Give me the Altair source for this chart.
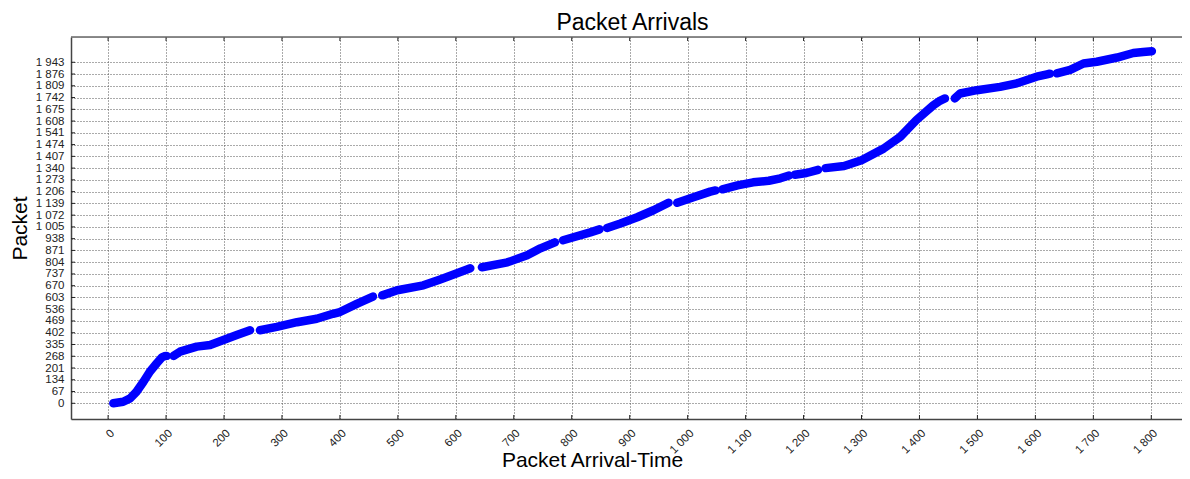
import altair as alt
import pandas as pd

# ---- data ----
segment_ids = (
    [1] * 10 + [2] * 7 + [3] * 8 + [4] * 6 + [5] * 5 + [6] * 3 + [7] * 5 + [8] * 4
    + [9] * 6 + [10] * 3 + [11] * 9 + [12] * 9 + [13] * 8
)
arrival_times = [
    9, 26, 38, 49, 61, 72, 84, 93, 97, 101,
    113, 124, 153, 176, 199, 222, 245,
    262, 291, 326, 360, 388, 400, 430, 457,
    473, 499, 544, 573, 602, 625,
    645, 689, 723, 746, 771,
    785, 832, 848,
    861, 884, 913, 941, 967,
    982, 1010, 1039, 1048,
    1060, 1086, 1113, 1140, 1160, 1175,
    1185, 1205, 1225,
    1238, 1270, 1300, 1338, 1367, 1395, 1424, 1436, 1444,
    1461, 1470, 1499, 1539, 1568, 1602, 1612, 1620, 1625,
    1637, 1660, 1683, 1706, 1741, 1769, 1786, 1801,
]
packets = [
    0, 9, 28, 66, 123, 180, 228, 262, 268, 270,
    270, 294, 323, 332, 361, 389, 416,
    416, 435, 462, 482, 510, 520, 568, 608,
    615, 644, 672, 706, 741, 769,
    775, 803, 843, 883, 917,
    929, 974, 991,
    999, 1024, 1060, 1100, 1143,
    1142, 1174, 1206, 1213,
    1219, 1242, 1259, 1268, 1282, 1298,
    1302, 1312, 1330,
    1340, 1352, 1385, 1451, 1519, 1615, 1698, 1725, 1737,
    1737, 1765, 1784, 1803, 1823, 1861, 1868, 1874, 1878,
    1880, 1900, 1936, 1946, 1970, 1996, 2002, 2006,
]
x_tick_values = [0, 100, 200, 300, 400, 500, 600, 700, 800, 900,
                 1000, 1100, 1200, 1300, 1400, 1500, 1600, 1700, 1800]
y_tick_values = [0, 67, 134, 201, 268, 335, 402, 469, 536, 603, 670, 737, 804,
                 871, 938, 1005, 1072, 1139, 1206, 1273, 1340, 1407, 1474,
                 1541, 1608, 1675, 1742, 1809, 1876, 1943]
chart_title = "Packet Arrivals"

df = pd.DataFrame({"seg": segment_ids, "time": arrival_times, "packet": packets})
xt = pd.DataFrame({"time": x_tick_values})
yt = pd.DataFrame({"packet": y_tick_values})

FONT = "Liberation Sans"
label_expr = "replace(format(datum.value, ','), ',', ' ')"

W, H = 1111, 382
x_scale = alt.Scale(domain=[-64, 1853], nice=False, zero=False)
y_scale = alt.Scale(domain=[-89.5, 2087], nice=False, zero=False)

x_axis = alt.Axis(
    values=x_tick_values, labelExpr=label_expr, labelAngle=-45,
    labelAlign="right", labelBaseline="top", labelPadding=8,
    labelFontSize=11.5, labelColor="#222", labelFont=FONT,
    labelOverlap=False,
    ticks=False, title="Packet Arrival-Time", titleFont=FONT,
    titleFontSize=21, titleFontWeight="normal", titleColor="#000",
    titleX=521, titleY=47, titleAlign="center", titleBaseline="alphabetic",
    grid=True, gridColor="#555", gridDash=[1, 2], gridWidth=1,
    domainColor="#444", domainWidth=1.5,
)
y_axis = alt.Axis(
    values=y_tick_values, labelExpr=label_expr, labelPadding=7,
    labelFontSize=11.5, labelColor="#222", labelFont=FONT,
    labelOverlap=False,
    ticks=False, title="Packet", titleFont=FONT, titleFontSize=21,
    titleFontWeight="normal", titleColor="#000",
    titleX=-45, titleY=H / 2, titleAlign="center", titleBaseline="alphabetic",
    grid=True, gridColor="#555", gridDash=[1, 2], gridWidth=1,
    domainColor="#444", domainWidth=1.5,
)

X = alt.X("time:Q", scale=x_scale, axis=x_axis)
Y = alt.Y("packet:Q", scale=y_scale, axis=y_axis)

line = alt.Chart(df).mark_line(
    color="#0000ff", strokeWidth=8.5, strokeCap="round", strokeJoin="round"
).encode(x=X, y=Y, detail="seg:N", order="time:Q")

one_row = pd.DataFrame({"a": [0]})

top_border = alt.Chart(one_row).mark_rule(
    color="#666", strokeWidth=1.5
).encode(x=alt.value(0), x2=alt.value(W), y=alt.value(0))

# inner tick marks (MATLAB style)
x_ticks_bottom = alt.Chart(xt).mark_rule(color="#222", strokeWidth=1).encode(
    x=X, y=alt.value(H), y2=alt.value(H - 4)
)
x_ticks_top = alt.Chart(xt).mark_rule(color="#222", strokeWidth=1).encode(
    x=X, y=alt.value(0), y2=alt.value(4)
)
y_ticks_left = alt.Chart(yt).mark_rule(color="#222", strokeWidth=1).encode(
    y=Y, x=alt.value(0), x2=alt.value(4)
)

title_text = alt.Chart(one_row).mark_text(
    font=FONT, fontSize=23, color="#000", align="center", baseline="alphabetic"
).encode(x=alt.value(W / 2 + 6), y=alt.value(-7), text=alt.value(chart_title))

chart = alt.layer(
    line, x_ticks_bottom, x_ticks_top, y_ticks_left, top_border, title_text
).properties(
    width=W,
    height=H,
    padding={"left": 63, "top": 29, "right": 0, "bottom": 52},
    autosize=alt.AutoSizeParams(type="none"),
).configure_view(stroke=None).configure(background="white")

chart.save("out.html", embed_options={"renderer": "svg", "actions": False})
